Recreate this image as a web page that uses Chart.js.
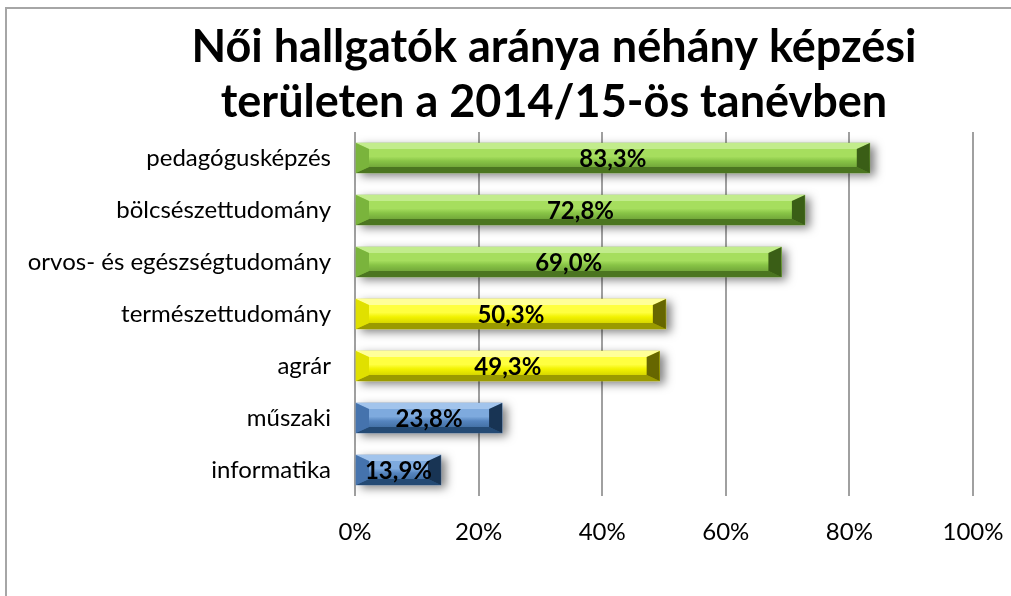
<!DOCTYPE html>
<html>
<head>
<meta charset="utf-8">
<script src="https://cdn.jsdelivr.net/npm/chart.js@4"></script>
<style>
    body { margin: 0; background: #fff; overflow: hidden; }
    #chart { display: block; }
</style>
</head>
<body>
<canvas id="chart" width="1011" height="596"></canvas>
<script>
const titleLines = ['Női hallgatók aránya néhány képzési', 'területen a 2014/15-ös tanévben'];
const categories = [
    'pedagógusképzés',
    'bölcsészettudomány',
    'orvos- és egészségtudomány',
    'természettudomány',
    'agrár',
    'műszaki',
    'informatika'
];
const shares = [83.3, 72.8, 69.0, 50.3, 49.3, 23.8, 13.9];
const xTicks = [0, 20, 40, 60, 80, 100];

const FONT = 'Lato, "Open Sans", sans-serif';

// colour sets for the bevelled bars
const green = { light: '#a6de5e', mid: '#88c446', dark: '#5e8c2e', top: '#c2ec8c', bottom: '#4b7520', left: '#7ab43c', right: '#3a5e16' };
const yellow = { light: '#ffff40', mid: '#f2f200', dark: '#bcbc00', top: '#ffff99', bottom: '#9a9a00', left: '#e0e000', right: '#666600' };
const blue = { light: '#7eaade', mid: '#5584be', dark: '#34608f', top: '#a2c4ec', bottom: '#244a74', left: '#4573ad', right: '#183454' };
const barTones = [green, green, green, yellow, yellow, blue, blue];

const fmt = v => v.toFixed(1).replace('.', ',') + '%';

const bevelPlugin = {
    id: 'bevel',
    beforeDraw(chart) {
        // chart frame: only left and top edges are inside the picture
        const ctx = chart.ctx;
        ctx.save();
        ctx.strokeStyle = '#a6a6a6';
        ctx.lineWidth = 2;
        ctx.beginPath();
        ctx.moveTo(6, 596);
        ctx.lineTo(6, 8);
        ctx.lineTo(1011, 8);
        ctx.stroke();
        ctx.restore();
    },
    beforeDatasetsDraw(chart) {
        const ctx = chart.ctx;
        const meta = chart.getDatasetMeta(0);
        ctx.save();
        ctx.shadowColor = 'rgba(0,0,0,0.5)';
        ctx.shadowBlur = 10;
        ctx.shadowOffsetX = 5;
        ctx.shadowOffsetY = 3;
        ctx.fillStyle = '#777';
        meta.data.forEach(bar => {
            const p = bar.getProps(['x', 'y', 'base', 'height'], true);
            ctx.fillRect(p.base, p.y - p.height / 2, p.x - p.base, p.height);
        });
        ctx.restore();
    },
    afterDatasetsDraw(chart) {
        const ctx = chart.ctx;
        const meta = chart.getDatasetMeta(0);
        const bx = 13, by = 6;
        ctx.save();
        meta.data.forEach((bar, i) => {
            const t = barTones[i];
            const p = bar.getProps(['x', 'y', 'base', 'height'], true);
            const x0 = p.base, x1 = p.x, y0 = p.y - p.height / 2, y1 = p.y + p.height / 2;

            const g = ctx.createLinearGradient(0, y0, 0, y1);
            g.addColorStop(0, t.light);
            g.addColorStop(0.45, t.light);
            g.addColorStop(0.6, t.mid);
            g.addColorStop(1, t.dark);
            ctx.fillStyle = g;
            ctx.fillRect(x0, y0, x1 - x0, y1 - y0);

            const poly = (pts, col) => {
                ctx.beginPath();
                ctx.moveTo(pts[0][0], pts[0][1]);
                pts.slice(1).forEach(q => ctx.lineTo(q[0], q[1]));
                ctx.closePath();
                ctx.fillStyle = col;
                ctx.fill();
            };
            poly([[x0, y0], [x1, y0], [x1 - bx, y0 + by], [x0 + bx, y0 + by]], t.top);
            poly([[x0, y1], [x1, y1], [x1 - bx, y1 - by], [x0 + bx, y1 - by]], t.bottom);
            poly([[x0, y0], [x0 + bx, y0 + by], [x0 + bx, y1 - by], [x0, y1]], t.left);
            poly([[x1, y0], [x1 - bx, y0 + by], [x1 - bx, y1 - by], [x1, y1]], t.right);

            ctx.fillStyle = '#000';
            ctx.font = 'bold 24px ' + FONT;
            ctx.textAlign = 'center';
            ctx.textBaseline = 'middle';
            ctx.fillText(fmt(shares[i]), (x0 + x1) / 2, p.y + 1);
        });
        ctx.restore();
    },
    afterDraw(chart) {
        const ctx = chart.ctx;
        ctx.save();
        ctx.fillStyle = '#000';
        ctx.font = 'bold 45px ' + FONT;
        ctx.textAlign = 'center';
        ctx.textBaseline = 'middle';
        ctx.fillText(titleLines[0], 554, 47);
        ctx.fillText(titleLines[1], 554, 102);
        ctx.restore();
    }
};

const ctx = document.getElementById('chart').getContext('2d');

const chart = new Chart(ctx, {
    type: 'bar',
    data: {
        labels: categories,
        datasets: [{
            data: shares,
            backgroundColor: barTones.map(t => t.mid),
            barThickness: 30,
        }]
    },
    options: {
        indexAxis: 'y',
        responsive: false,
        animation: false,
        layout: { padding: { top: 132, right: 38, left: 0, bottom: 0 } },
        plugins: {
            legend: { display: false },
            tooltip: { enabled: false },
            title: { display: false }
        },
        scales: {
            x: {
                min: 0,
                max: 100,
                afterBuildTicks: scale => { scale.ticks = xTicks.map(v => ({ value: v })); },
                grid: { color: '#a0a0a0', lineWidth: 2, drawTicks: false },
                border: { display: false },
                ticks: {
                    color: '#000',
                    font: { family: FONT, size: 24 },
                    padding: 22,
                    callback: v => v + '%'
                },
                afterFit: scale => {
                    scale.height = 100;
                    scale.paddingLeft = 0;
                    scale.paddingRight = 0;
                }
            },
            y: {
                grid: { display: false, drawTicks: false },
                border: { display: false },
                ticks: {
                    color: '#000',
                    font: { family: FONT, size: 24 },
                    padding: 24
                },
                afterFit: scale => { scale.width = 355; }
            }
        }
    },
    plugins: [bevelPlugin]
});
</script>
</body>
</html>
